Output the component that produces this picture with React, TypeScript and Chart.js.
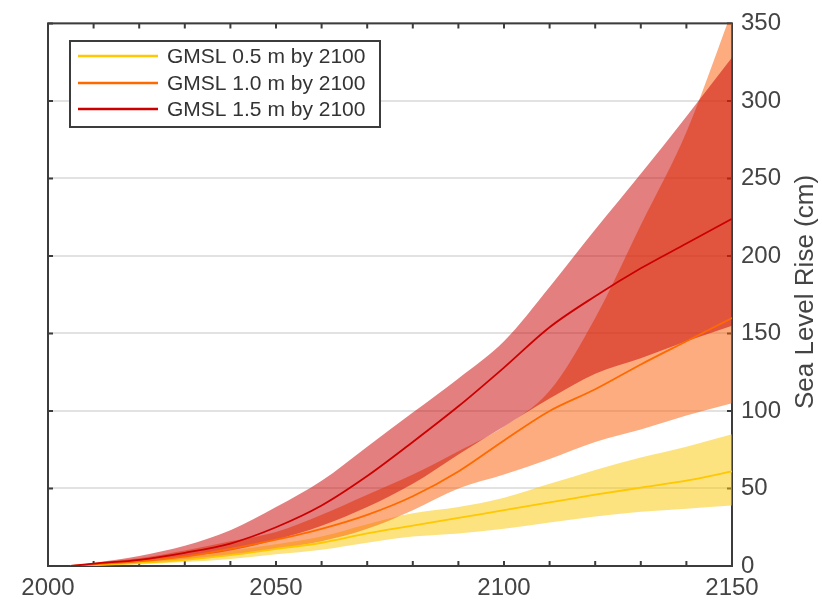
import React, { useEffect, useRef } from 'react';
import { Chart, registerables } from 'chart.js';

Chart.register(...registerables);

// ---- Data ----
const years = [2005, 2010, 2020, 2030, 2040, 2050, 2060, 2070, 2080, 2090, 2100, 2110, 2120, 2130, 2140, 2150];

const seriesLabels = ['GMSL 0.5 m by 2100', 'GMSL 1.0 m by 2100', 'GMSL 1.5 m by 2100'];

const yellowMid = [0, 0.5, 2, 4, 7, 11, 15, 21, 26, 31, 36, 41, 46, 50.5, 55, 61];
const yellowLo = [0, 0.3, 1, 2.5, 4.5, 7.5, 10.5, 15, 19, 21, 24, 28, 32, 35, 37, 39];
const yellowHi = [0, 1, 3, 6, 10, 14, 19, 27, 34, 38, 44, 53, 62, 70, 77, 85];

const orangeMid = [0, 1, 3, 6, 11, 17, 24, 33, 45, 61, 81, 100, 114, 130, 145, 160];
const orangeLo = [0, 0.5, 2, 4, 7, 11, 16, 24, 36, 50, 59, 69, 80, 88, 97, 105];
const orangeHi = [0, 2, 5, 10, 16, 22, 33, 46, 59, 74, 90, 113, 160, 220, 280, 358];

const redMid = [0, 1.5, 4, 8.5, 14.5, 25, 39, 58, 80, 103, 128, 154, 174, 192, 208, 224];
const redLo = [0, 1, 3, 6, 10, 17, 26, 38, 53, 72, 90, 108, 124, 134, 145, 155];
const redHi = [0, 2, 6.5, 13, 23, 38, 55, 77, 99, 121, 145, 180, 217, 253, 290, 328];

const xLabelValues = [2000, 2050, 2100, 2150];
const yAxisTitle = 'Sea Level Rise (cm)';

// ---- Styles ----
const lineColors = ['#ffc800', '#ff6a00', '#cc0000'];
const bandColors = ['rgba(250,200,0,0.5)', 'rgba(250,90,0,0.5)', 'rgba(200,0,0,0.5)'];
const FONT = 'Arial, "Liberation Sans", Helvetica, sans-serif';
const TEXT = '#444444';

const pts = (v: number[]) => years.map((x, i) => ({ x, y: v[i] }));

const framePlugin = {
  id: 'frame',
  beforeDatasetsDraw(chart: any) {
    const { ctx, chartArea } = chart;
    const { left, right, top, bottom } = chartArea;
    const xs = chart.scales.x;
    const ys = chart.scales.y;
    ctx.save();
    ctx.strokeStyle = '#3c3c3c';
    ctx.lineWidth = 2;
    ctx.strokeRect(left, top, right - left, bottom - top);
    ctx.beginPath();
    xs.ticks.forEach((t: any) => {
      const px = xs.getPixelForValue(t.value);
      ctx.moveTo(px, bottom);
      ctx.lineTo(px, bottom - 5);
      ctx.moveTo(px, top);
      ctx.lineTo(px, top + 5);
    });
    ys.ticks.forEach((t: any) => {
      const py = ys.getPixelForValue(t.value);
      ctx.moveTo(left, py);
      ctx.lineTo(left + 5, py);
      ctx.moveTo(right, py);
      ctx.lineTo(right - 5, py);
    });
    ctx.stroke();
    ctx.restore();
  },
};

const overlayPlugin = {
  id: 'overlay',
  afterDraw(chart: any) {
    const { ctx } = chart;
    ctx.save();
    // legend box
    const bx = 70, by = 41, bw = 310, bh = 86;
    ctx.fillStyle = '#ffffff';
    ctx.fillRect(bx, by, bw, bh);
    ctx.strokeStyle = '#3c3c3c';
    ctx.lineWidth = 2;
    ctx.strokeRect(bx, by, bw, bh);
    const rows = [56, 83, 109];
    ctx.font = `21px ${FONT}`;
    ctx.textBaseline = 'middle';
    ctx.textAlign = 'left';
    seriesLabels.forEach((lab, i) => {
      ctx.strokeStyle = lineColors[i];
      ctx.lineWidth = 2.5;
      ctx.beginPath();
      ctx.moveTo(78, rows[i]);
      ctx.lineTo(158, rows[i]);
      ctx.stroke();
      ctx.fillStyle = '#333333';
      ctx.fillText(lab, 167, rows[i] + 1);
    });
    // y axis title, reading bottom to top
    ctx.translate(806, 292);
    ctx.rotate(-Math.PI / 2);
    ctx.font = `26px ${FONT}`;
    ctx.textAlign = 'center';
    ctx.textBaseline = 'middle';
    ctx.fillStyle = TEXT;
    ctx.fillText(yAxisTitle, 0, 0);
    ctx.restore();
  },
};

export default function App() {
  const ref = useRef<HTMLCanvasElement | null>(null);

  useEffect(() => {
    document.body.style.margin = '0';
    const canvas = ref.current;
    if (!canvas) return;

    const lineDs = (label: string, v: number[], i: number, order: number) => ({
      label,
      data: pts(v),
      borderColor: lineColors[i],
      borderWidth: 1.8,
      pointRadius: 0,
      fill: false,
      cubicInterpolationMode: 'monotone',
      order,
    });
    const loDs = (label: string, v: number[], order: number) => ({
      label,
      data: pts(v),
      borderWidth: 0,
      borderColor: 'rgba(0,0,0,0)',
      pointRadius: 0,
      fill: false,
      cubicInterpolationMode: 'monotone',
      order,
    });
    const hiDs = (label: string, v: number[], i: number, order: number) => ({
      label,
      data: pts(v),
      borderWidth: 0,
      borderColor: 'rgba(0,0,0,0)',
      backgroundColor: bandColors[i],
      pointRadius: 0,
      fill: '-1',
      cubicInterpolationMode: 'monotone',
      order,
    });

    const chart = new Chart(canvas, {
      type: 'line',
      data: {
        datasets: [
          lineDs(seriesLabels[2], redMid, 2, 0),
          lineDs(seriesLabels[1], orangeMid, 1, 1),
          lineDs(seriesLabels[0], yellowMid, 0, 2),
          loDs('red lo', redLo, 3),
          hiDs('red hi', redHi, 2, 3),
          loDs('orange lo', orangeLo, 4),
          hiDs('orange hi', orangeHi, 1, 4),
          loDs('yellow lo', yellowLo, 5),
          hiDs('yellow hi', yellowHi, 0, 5),
        ] as any,
      },
      options: {
        animation: false,
        responsive: true,
        maintainAspectRatio: false,
        events: [],
        layout: { padding: { left: 48, top: 18, right: 0, bottom: 0 } },
        plugins: {
          legend: { display: false },
          tooltip: { enabled: false },
          filler: { propagate: false },
        },
        scales: {
          x: {
            type: 'linear',
            min: 2000,
            max: 2150,
            grid: { display: false, drawTicks: false },
            border: { display: false },
            afterFit: (s: any) => { s.height = 35; },
            ticks: {
              stepSize: 10,
              autoSkip: false,
              maxRotation: 0,
              padding: 8,
              color: TEXT,
              font: { family: FONT, size: 24 },
              callback: (v: any) => (xLabelValues.includes(Number(v)) ? String(v) : ''),
            },
          },
          y: {
            position: 'right',
            min: 0,
            max: 350,
            grid: { color: '#e2e2e2', lineWidth: 2, drawTicks: false },
            border: { display: false },
            afterFit: (s: any) => { s.width = 90; },
            ticks: {
              stepSize: 50,
              padding: 9,
              color: TEXT,
              font: { family: FONT, size: 24 },
            },
          },
        },
      } as any,
      plugins: [framePlugin, overlayPlugin],
    });
    return () => chart.destroy();
  }, []);

  return (
    <div style={{ width: 822, height: 601, position: 'relative' }}>
      <canvas ref={ref} />
    </div>
  );
}
